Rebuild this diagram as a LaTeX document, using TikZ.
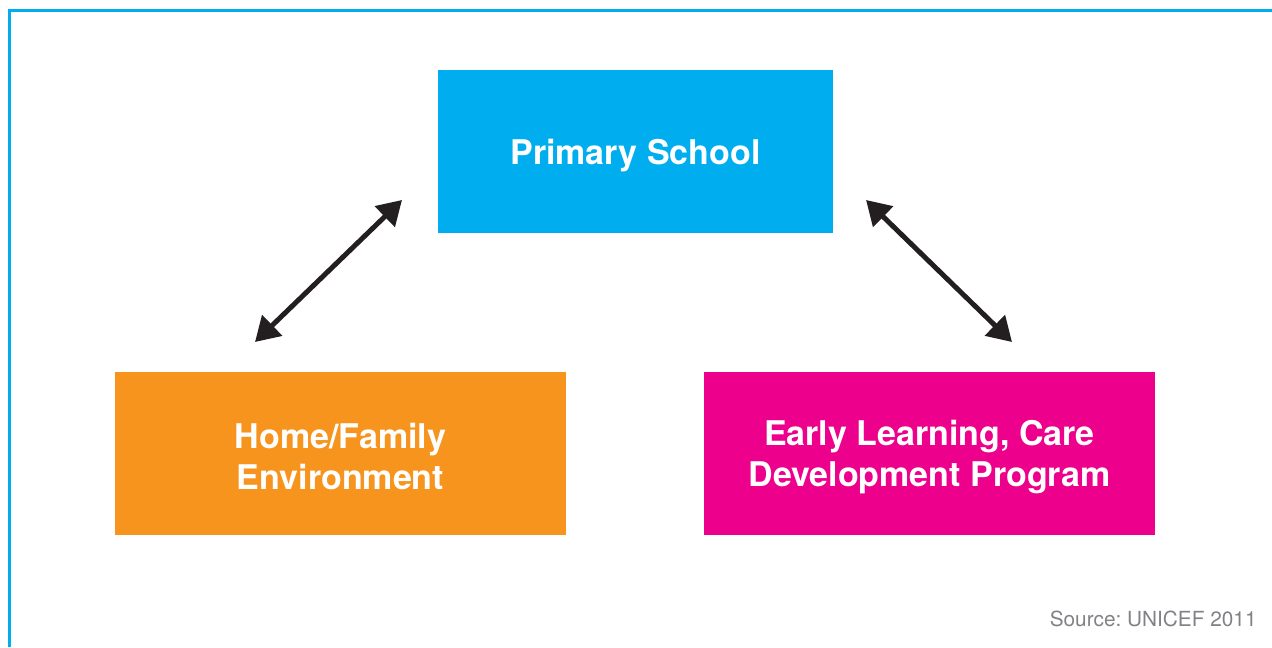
\documentclass[tikz,border=0pt]{standalone}
\usepackage{fontspec}
\setmainfont{TeX Gyre Heros}
\usetikzlibrary{positioning}
\usetikzlibrary{arrows.meta}
\definecolor{unicyan}{HTML}{00AEEF}
\definecolor{uniorange}{HTML}{F7941D}
\definecolor{unimagenta}{HTML}{EC008C}
\definecolor{arrowdark}{HTML}{231F20}
\definecolor{srcgray}{HTML}{808285}
\tikzset{blk/.style={rectangle,inner sep=0pt,outer sep=0pt,minimum height=81.5pt,text=white,align=center,font=\bfseries\fontsize{17}{20.5}\selectfont}}
\tikzset{dbl/.style={{Triangle[length=12pt,width=14pt]}-{Triangle[length=12pt,width=14pt]},line width=2.5pt,draw=arrowdark}}
\tikzset{frame/.style={draw=unicyan,line width=1.5pt}}
\frenchspacing

\begin{document}
\begin{tikzpicture}[x=0.5pt,y=-0.5pt]
\useasboundingbox (0,0) rectangle (1272,647);

\draw[frame] (9,647) -- (9,11) -- (1272,11);

\node[blk,fill=unicyan,minimum width=197.5pt,text height=17pt] at (635.5,151.5) (school) {Primary School};
\node[blk,fill=uniorange,minimum width=225.5pt,text height=36.3pt] at (340.5,453.5) (home) {Home/Family\\Environment};
\node[blk,fill=unimagenta,minimum width=225.5pt,text height=36.3pt] at (929.5,453.5) (care) {Early Learning, Care\\Development Program};

\coordinate[above left=16.5pt and 18pt of school.south west] (sw);
\coordinate[above right=16.5pt and 16.5pt of school.south east] (se);
\coordinate[above left=15pt and 42.75pt of home.north] (hn);
\coordinate[above right=15pt and 41.25pt of care.north] (cn);

\draw[dbl] (hn) -- (sw);
\draw[dbl] (se) -- (cn);

\node[anchor=base east,inner sep=0pt,text=srcgray,font=\fontsize{10.4}{12}\selectfont] at (1257,626) (src) {Source: UNICEF 2011};

\end{tikzpicture}
\end{document}
